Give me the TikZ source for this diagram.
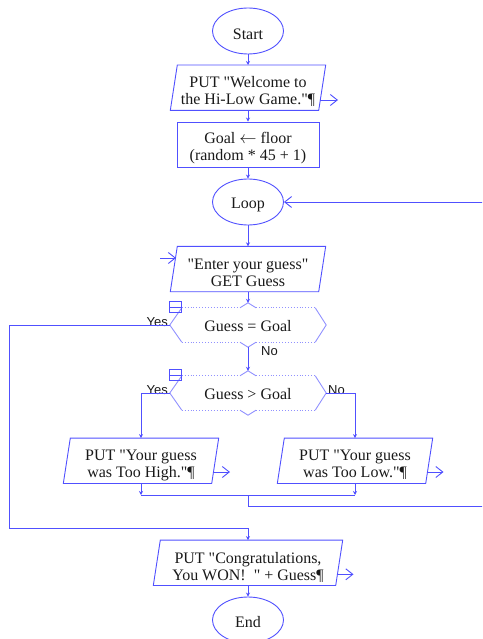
\documentclass[tikz,border=0pt]{standalone}
\usepackage{fontspec}
\newfontfamily\serfont{Liberation Serif}
\newfontfamily\lblfont{Liberation Sans}
\usetikzlibrary{shapes.geometric,arrows.meta,calc}
\definecolor{fl}{RGB}{80,80,255}
\definecolor{fll}{RGB}{145,145,255}
\definecolor{tx}{RGB}{25,25,25}
\newcommand{\hexdraw}[1]{%
 \draw[hexside] ($(#1.north west)+(12,0)$) -- (#1.west) -- ($(#1.south west)+(12,0)$);
 \draw[hexside] ($(#1.north east)+(-11,0)$) -- (#1.east) -- ($(#1.south east)+(-11,0)$);
 \draw[hexdot] ($(#1.north west)+(12,0)$) -- ($(#1.north)+(-8,0)$);
 \draw[hexdot] ($(#1.north)+(8,0)$) -- ($(#1.north east)+(-11,0)$);
 \draw[hexdot] ($(#1.south west)+(12,0)$) -- ($(#1.south)+(-8,0)$);
 \draw[hexdot] ($(#1.south)+(8,0)$) -- ($(#1.south east)+(-11,0)$);
 \draw[hexside] ($(#1.north)+(-8,0)$) -- (#1in) -- ($(#1.north)+(8,0)$);
 \draw[hexside] ($(#1.south)+(-8,0)$) -- (#1out) -- ($(#1.south)+(8,0)$);
 \draw[iconst] ($(#1.north west)+(-0.5,-6)$) rectangle ++(12,11);
 \draw[iconst] ($(#1.north west)+(-0.5,-0.5)$) -- ++(12,0);
}
\newcommand{\iodraw}[1]{%
 \draw[conn] ($(#1.north west)+(7,0)$) -- (#1.north east) -- ($(#1.south east)+(-7,0)$) -- (#1.south west) -- cycle;
}
\begin{document}
\begin{tikzpicture}[x=1pt,y=-1pt,
  every node/.style={text=tx},
  txt/.style={align=center, inner sep=0, font=\serfont\fontsize{16}{17}\selectfont},
  lbl/.style={inner sep=0, font=\lblfont\fontsize{13}{14}\selectfont},
  term/.style={ellipse, draw=fl, line width=0.9pt, minimum width=71, minimum height=46, inner sep=0},
  iobox/.style={rectangle, draw=none, minimum width=155, minimum height=45, inner sep=0},
  procbox/.style={rectangle, draw=fl, line width=0.9pt, minimum width=142, minimum height=45, inner sep=0},
  hexbox/.style={rectangle, draw=none, minimum width=156, minimum height=34, inner sep=0},
  hexside/.style={draw=fll, line width=0.9pt},
  hexdot/.style={draw=fll, line width=0.9pt, dotted},
  iconst/.style={draw=fl, line width=0.8pt},
  conn/.style={draw=fl, line width=0.9pt},
  flow/.style={conn, -{Stealth[length=4pt,width=4pt]}},
  barb/.style={conn, -{Straight Barb[length=7pt,width=11pt,line width=0.9pt]}}
]
\useasboundingbox (0,0) rectangle (482,639);
\clip (0,0) rectangle (482,639);

% terminals and boxes
\node[term] (start) at (248,31) {};
\node[txt] (startt) at (248,34) {Start};

\node[iobox] (p1) at (248,87.7) {};
\iodraw{p1}
\node[txt] (p1t) at (248,91) {PUT "Welcome to\\the Hi-Low Game."¶};
\coordinate (p1s) at (320,100);
\coordinate (p1e) at (338,100);

\node[procbox] (a1) at (248,144.5) {};
\node[txt] (a1t) at (248,148) {Goal $\leftarrow$ floor\\(random * 45 + 1)};

\node[term] (loop) at (248,202) {};
\node[txt] (loopt) at (248,205) {Loop};

\node[iobox] (in1) at (248,269) {};
\iodraw{in1}
\node[txt] (in1t) at (248,273) {"Enter your guess"\\GET Guess};
\coordinate (ins) at (160,258);
\coordinate (ine) at (176,258);

% decisions
\node[hexbox] (d1) at (248,325) {};
\coordinate (d1in) at ($(d1.north)+(0,-5)$);
\coordinate (d1out) at ($(d1.south)+(0,5)$);
\hexdraw{d1}
\node[txt] (d1t) at (248,326) {Guess = Goal};
\node[lbl, anchor=base east] (y1) at (168,326.5) {Yes};
\node[lbl, anchor=base west] (n1) at (261,355) {No};

\node[hexbox] (d2) at (248,393) {};
\coordinate (d2in) at ($(d2.north)+(0,-5)$);
\coordinate (d2out) at ($(d2.south)+(0,5)$);
\hexdraw{d2}
\node[txt] (d2t) at (248,394) {Guess > Goal};
\node[lbl, anchor=base east] (y2) at (168,394.5) {Yes};
\node[lbl, anchor=base west] (n2) at (328,394.5) {No};

\node[iobox] (hi) at (141,460.8) {};
\iodraw{hi}
\node[txt] (hit) at (141,465) {PUT "Your guess\\was Too High."¶};
\coordinate (his) at (213,472);
\coordinate (hie) at (230,472);

\node[iobox] (lo) at (355,460.8) {};
\iodraw{lo}
\node[txt] (lot) at (355,465) {PUT "Your guess\\was Too Low."¶};
\coordinate (los) at (427,472);
\coordinate (loe) at (443.5,472);

\node[iobox, minimum width=189] (win) at (248,562.8) {};
\iodraw{win}
\node[txt] (wint) at (248,567) {PUT "Congratulations,\\You WON!\ \ " + Guess¶};
\coordinate (wins) at (337,574.3);
\coordinate (wine) at (353.5,574.3);

\node[term] (end) at (248,620) {};
\node[txt] (endt) at (248,622) {End};

% connectors
\draw[flow] (start.south) -- (p1.north);
\draw[flow] (p1.south) -- (a1.north);
\draw[flow] (a1.south) -- (loop.north);
\draw[flow] (loop.south) -- (in1.north);
\draw[flow] (in1.south) -- (d1in);
\draw[flow] (d1out) -- (d2in);
\coordinate (ycorner) at (9.3,528.3);
\draw[flow] (d1.west) -| (ycorner) -| (win.north);
\draw[flow] (d2.west) -| (hi.north);
\draw[flow] (d2.east) -| (lo.north);
\coordinate (m) at (248,495);
\draw[flow] (hi.south) -- (hi.south |- m);
\draw[flow] (lo.south) -- (lo.south |- m);
\draw[conn] (hi.south |- m) -- (lo.south |- m);
\coordinate (rb) at (484,506);
\coordinate (rt) at (484,202);
\draw[barb] (m) |- (rb) -- (rt) -- (loop.east);
\draw[flow] (win.south) -- (end.north);

% output / input marks
\draw[barb] (p1s) -- (p1e);
\draw[barb] (ins) -- (ine);
\draw[barb] (his) -- (hie);
\draw[barb] (los) -- (loe);
\draw[barb] (wins) -- (wine);
\end{tikzpicture}
\end{document}
